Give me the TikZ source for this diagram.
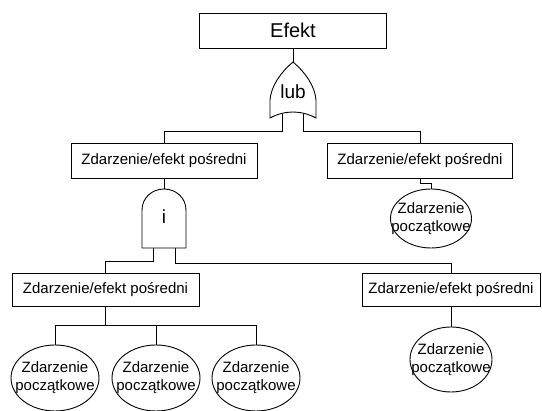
\documentclass[tikz,border=0pt]{standalone}
\usepackage{fontspec}
\setmainfont{Liberation Sans}
\usetikzlibrary{shapes.geometric}
\begin{document}
\begin{tikzpicture}[x=1pt,y=-1pt,
  line width=0.9pt,
  every node/.style={inner sep=0pt},
  txt/.style={font=\fontsize{15}{18}\selectfont},
  eventbox/.style={draw, rectangle, txt, minimum height=34pt},
  basic/.style={draw, ellipse,
    label={[txt, align=center]center:{Zdarzenie\\początkowe}}},
  gate/.style={draw},
  gatelabel/.style={font=\fontsize{19}{22}\selectfont}
]
\useasboundingbox (0,0) rectangle (542,411);

% top event
\node[eventbox, minimum width=187pt, minimum height=35pt,
      font=\fontsize{20}{24}\selectfont] (efekt) at (293,30.5) {Efekt};

% OR gate
\coordinate (orTop) at (293,62);
\draw[gate] (orTop) .. controls (281,72) and (271,86) .. (270,100)
  -- (270,118) .. controls (285,110) and (301,110) .. (316,118)
  -- (316,100) .. controls (315,86) and (305,72) .. (orTop) -- cycle;
\node[gatelabel] (lub) at (293,92) {lub};
\coordinate (orLegL) at (282,114);
\coordinate (orLegR) at (303,114);

% intermediate events, first level
\node[eventbox, minimum width=186pt, minimum height=35pt] (pL) at (164,160.5) {Zdarzenie/efekt pośredni};
\node[eventbox, minimum width=185pt, minimum height=35pt] (pR) at (420,160.5) {Zdarzenie/efekt pośredni};

% AND gate
\coordinate (andTop) at (164,189);
\draw[gate] (142,248) -- (142,210) .. controls (142,198) and (152,189) .. (andTop)
  .. controls (176,189) and (186,198) .. (186,210) -- (186,248) -- cycle;
\node[gatelabel] (and) at (164,217) {i};
\coordinate (andLegL) at (153,248);
\coordinate (andLegR) at (175,248);

% basic event under the right intermediate event
\node[basic, minimum width=81pt, minimum height=59pt] (e1) at (431,218.5) {};

% intermediate events, second level
\node[eventbox, minimum width=187pt, minimum height=33pt] (qL) at (105.5,289.5) {Zdarzenie/efekt pośredni};
\node[eventbox, minimum width=178pt, minimum height=33pt] (qR) at (451,289.5) {Zdarzenie/efekt pośredni};

% basic events, bottom row
\node[basic, minimum width=88pt, minimum height=66pt] (e2) at (55,378) {};
\node[basic, minimum width=88pt, minimum height=66pt] (e3) at (156,378) {};
\node[basic, minimum width=88pt, minimum height=66pt] (e4) at (256,378) {};
\node[basic, minimum width=82pt, minimum height=65pt] (e5) at (451,359.5) {};

% connectors
\draw (efekt.south) -- (orTop);
\draw (orLegL) -- ++(0,17) -| (pL.north);
\draw (orLegR) -- ++(0,17) -| (pR.north);
\draw (pL.south) -- (andTop);
\draw (pR.south) -- ++(0,5) -| (e1.north);
\draw (andLegL) -- ++(0,13) -| (qL.north);
\draw (andLegR) -- ++(0,15) -| (qR.north);
\draw (qL.south) -- ++(0,19) -| (e2.north);
\draw (qL.south) -- ++(0,19) -| (e3.north);
\draw (qL.south) -- ++(0,19) -| (e4.north);
\draw (qR.south) -- (e5.north);
\end{tikzpicture}
\end{document}
